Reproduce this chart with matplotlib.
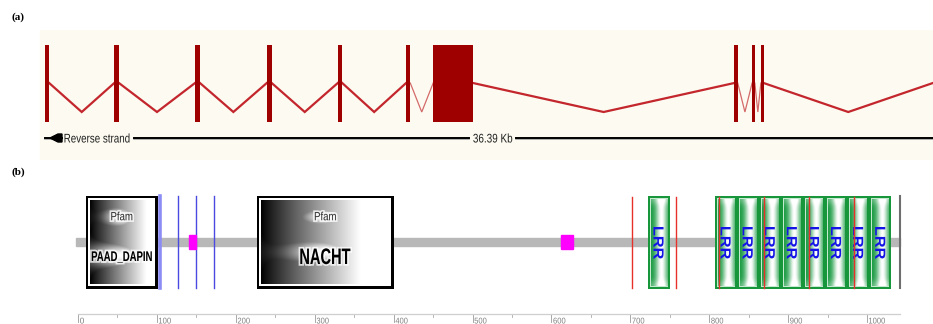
import numpy as np
import matplotlib.pyplot as plt
from matplotlib.patches import Rectangle, Polygon, PathPatch
from matplotlib.textpath import TextPath
from matplotlib.font_manager import FontProperties
from matplotlib.transforms import Affine2D
import matplotlib.patheffects as pe

# ---- gene model (kb along the drawn region) ----
gene_len_kb = 36.39
exon_start = [0.00, 2.84, 6.15, 9.09, 12.00, 14.80, 15.91, 28.25, 28.98, 29.34, 36.39]
exon_end = [0.17, 3.03, 6.35, 9.29, 12.18, 14.97, 17.54, 28.39, 29.09, 29.45, 36.55]

# ---- protein domains (residues) ----
protein_len = 1042
pfam_names = ['PAAD_DAPIN', 'NACHT']
pfam_start = [10, 227]
pfam_end = [101, 400]
lrr_start = [722, 807, 835, 863, 891, 919, 947, 975, 1003]
lrr_len = 28
blue_sites = [104, 127, 150, 172]
red_sites = [702, 758, 812, 869, 927, 983]
motif_start = [141, 612]
motif_end = [150, 627]
ruler_ticks = [0, 100, 200, 300, 400, 500, 600, 700, 800, 900, 1000]

CREAM = '#fdfbf1'
EXON_RED = '#9e0000'
INTRON_RED = '#c3262c'


def fitted_text(ax, x, y, s, width_px, cap_px, ux, uy, weight='normal',
                color='black', ha='center', zorder=6, halo=False, rot=0):
    """Text drawn as a path, squeezed to a given pixel width and cap height."""
    tp = TextPath((0, 0), s, size=1,
                  prop=FontProperties(family='Liberation Sans', weight=weight))
    bb = tp.get_extents()
    sx = width_px / bb.width
    sy = cap_px / 0.716
    dx = {'center': bb.x0 + bb.width / 2, 'left': bb.x0, 'right': bb.x1}[ha]
    tr = (Affine2D().translate(-dx, -0.358).scale(sx, sy).rotate_deg(rot)
          .scale(ux, uy).translate(x, y))
    p = PathPatch(tp, facecolor=color, edgecolor='none', lw=0,
                  transform=tr + ax.transData, zorder=zorder)
    if halo:
        p.set_path_effects([pe.withStroke(linewidth=2.5, foreground=(1, 1, 1, 0.75))])
    ax.add_patch(p)
    return width_px * ux


fig = plt.figure(figsize=(9.33, 3.24), dpi=100)
W, H = 933.0, 324.0

# ================= (a) gene structure =================
px_per_kb = 24.4
kpx = 1 / px_per_kb
kb0 = -45 * kpx
axa = fig.add_axes([0, 1 - 160 / H, 1, 130 / H])
axa.set_xlim(kb0, kb0 + W * kpx)
axa.set_ylim(130, 0)   # rows from the top of the track
axa.axis('off')

axa.add_patch(Rectangle((kb0 + 40 * kpx, 0), 1e3, 130, color=CREAM, zorder=0))

ex_top, ex_bot, base_y, dip_y, strand_y = 15, 92, 53, 82, 108
for s, e in zip(exon_start, exon_end):
    axa.add_patch(Rectangle((s, ex_top), e - s, ex_bot - ex_top,
                            facecolor=EXON_RED, edgecolor='none', zorder=3))
for i in range(len(exon_start) - 1):
    a, b = exon_end[i], exon_start[i + 1]
    short = (b - a) < 1.5
    axa.plot([a, (a + b) / 2, b], [base_y, dip_y, base_y],
             color='#d46a6a' if short else INTRON_RED,
             lw=0.9 if short else 1.6, zorder=2, solid_joinstyle='miter')

# strand label and length scale
lab_x = 19.5 * kpx
lab_w = fitted_text(axa, lab_x, strand_y, 'Reverse strand', 65, 9, kpx, -1,
                    color='#202020', ha='left')
mid_x = 18.35
len_w = fitted_text(axa, mid_x, strand_y, '%.2f Kb' % gene_len_kb, 39, 9, kpx, -1,
                    color='#202020')
gap = 4 * kpx
segments = [(0, 17 * kpx),
            (lab_x + lab_w + gap, mid_x - len_w / 2 - gap),
            (mid_x + len_w / 2 + gap, gene_len_kb)]
for a, b in segments:
    axa.plot([a, b], [strand_y + 1.3, strand_y + 1.3], color='#a0a0a0', lw=1.2, zorder=2)
    axa.plot([a, b], [strand_y, strand_y], color='black', lw=1.4, zorder=3)
tip, base = 5 * kpx, 13 * kpx
axa.add_patch(Polygon([[tip, strand_y], [base, strand_y - 4], [base + 4 * kpx, strand_y - 4],
                       [base + 4 * kpx, strand_y + 4], [base, strand_y + 4]],
                      closed=True, color='black', zorder=6))

fig.text(12 / W, 1 - 17 / H, '(a)', family='Liberation Serif', fontweight='bold',
         fontsize=8, ha='left', va='center')
fig.text(12 / W, 1 - 172 / H, '(b)', family='Liberation Serif', fontweight='bold',
         fontsize=8, ha='left', va='center')

# ================= (b) protein domains =================
px_per_aa = 0.789
xpx = 1 / px_per_aa        # one pixel in residues
aa0 = -78 * xpx
axb = fig.add_axes([0, 0, 1, 159 / H])
axb.axis('off')
box_top, box_bot = 46, -47

# backbone
axb.add_patch(Rectangle((-3, -4), protein_len + 3, 8, color='#b8b8b8', zorder=1))
axb.plot([protein_len, protein_len], [box_bot + 1, box_top], color='#6e6e6e', lw=1.5, zorder=2)

for k, x in enumerate(blue_sites):
    if k == 0:
        axb.plot([x, x], [box_bot + 1, box_top], color='#8c8cf5', lw=2.6, zorder=2)
    else:
        axb.plot([x, x], [box_bot + 1, box_top], color='#4a4ae0', lw=1.0, zorder=2)

for s, e in zip(motif_start, motif_end):
    axb.add_patch(Rectangle((s, -7), e - s, 14, color='#ff00ff', zorder=3))


def grey_box(x0, x1, name, glow_rows, dark_to, name_w, name_cap):
    axb.add_patch(Rectangle((x0, box_bot), x1 - x0, box_top - box_bot,
                            facecolor='black', edgecolor='none', zorder=3))
    axb.add_patch(Rectangle((x0 + 2 * xpx, box_bot + 3), x1 - x0 - 5 * xpx,
                            box_top - box_bot - 5, facecolor='white', edgecolor='none', zorder=4))
    U, V = np.meshgrid(np.linspace(0, 1, 240), np.linspace(0, 1, 120))
    img = np.clip(U / dark_to, 0, 1) ** 0.9
    for vt, su, sv in glow_rows:
        glow = np.exp(-((U - 0.5) / su) ** 2 - ((V - vt) / sv) ** 2)
        img = np.maximum(img, glow)
    axb.imshow(img, extent=(x0 + 4 * xpx, x1 - 5 * xpx, box_bot + 5, box_top - 4),
               origin='upper', cmap='gray', vmin=0, vmax=1, aspect='auto',
               interpolation='bilinear', zorder=5)
    xc = (x0 + x1) / 2
    fitted_text(axb, xc, 26, 'Pfam', 21, 8.5, xpx, 1, color='#333333', halo=True)
    fitted_text(axb, xc, -14, name, name_w, name_cap, xpx, 1, weight='bold', halo=True)


grey_box(pfam_start[0], pfam_end[0], pfam_names[0],
         [(0.2, 0.3, 0.14), (0.66, 0.55, 0.16)], 0.9, 60, 10)
grey_box(pfam_start[1], pfam_end[1], pfam_names[1],
         [(0.2, 0.2, 0.12), (0.62, 0.32, 0.17)], 0.78, 50, 16)

# leucine-rich repeats
green = np.array([0.09, 0.6, 0.25])
for s in lrr_start:
    e = s + lrr_len
    axb.add_patch(Rectangle((s, box_bot), lrr_len, box_top - box_bot,
                            facecolor='#17963c', edgecolor='none', zorder=3))
    axb.add_patch(Rectangle((s + 2 * xpx, box_bot + 2), lrr_len - 4 * xpx,
                            box_top - box_bot - 4, facecolor='#c6ead0', edgecolor='none', zorder=4))
    U, V = np.meshgrid(np.linspace(0, 1, 60), np.linspace(0, 1, 120))
    w = np.exp(-((U - 0.62) / 0.34) ** 2)
    w = np.clip(w + 0.25 * np.exp(-(V / 0.06) ** 2) + 0.25 * np.exp(-((1 - V) / 0.06) ** 2), 0, 1)
    rgb = green[None, None, :] * (1 - w[..., None]) + w[..., None]
    axb.imshow(rgb, extent=(s + 3 * xpx, e - 3 * xpx, box_bot + 3, box_top - 3),
               origin='upper', aspect='auto', interpolation='bilinear', zorder=5)
    fitted_text(axb, s + lrr_len / 2, -1, 'LRR', 32, 10.5, xpx, 1, weight='bold',
                color='#1414e6', rot=-90)

for x in red_sites:
    axb.plot([x, x], [box_bot + 1, box_top - 1], color='#e8302a', lw=1.0, zorder=7)

# residue ruler
rule_y = -72
axb.plot([0, protein_len], [rule_y, rule_y], color='#cfcfcf', lw=0.9, zorder=1)
for t in ruler_ticks:
    axb.plot([t, t], [rule_y - 1, rule_y - 8], color='#9a9a9a', lw=0.6, zorder=1)
    fitted_text(axb, t + 2 * xpx, rule_y - 6.5, str(t), 4 * len(str(t)), 6, xpx, 1,
                color='#808080', ha='left', zorder=1)
    if t + 50 < protein_len:
        axb.plot([t + 50, t + 50], [rule_y - 1, rule_y - 3], color='#aaaaaa', lw=0.6, zorder=1)

axb.set_xlim(aa0, aa0 + W * xpx)
axb.set_ylim(-82, 77)

fig.savefig('out.png', dpi=100)
